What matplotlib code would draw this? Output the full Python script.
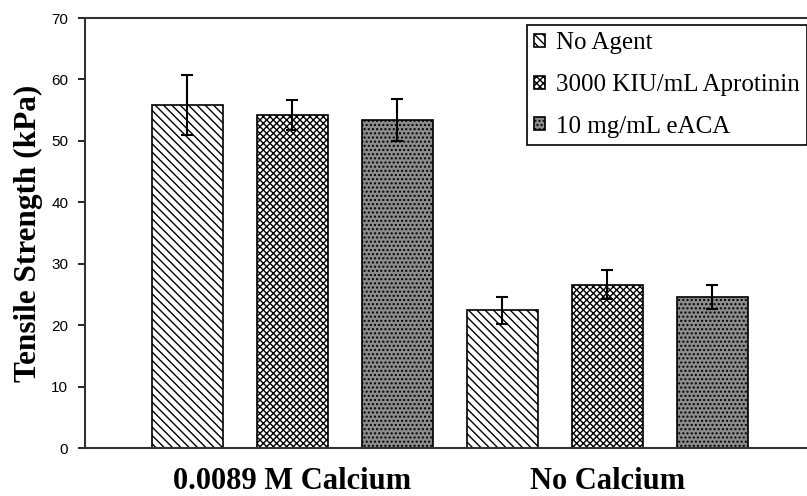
import matplotlib
matplotlib.use("Agg")
import matplotlib.pyplot as plt
import numpy as np

# data
groups = ["0.0089 M Calcium", "No Calcium"]
agents = ["No Agent", "3000 KIU/mL Aprotinin", "10 mg/mL eACA"]
means = {
    "No Agent": [55.9, 22.4],
    "3000 KIU/mL Aprotinin": [54.2, 26.6],
    "10 mg/mL eACA": [53.4, 24.6],
}
errors = {
    "No Agent": [4.9, 2.2],
    "3000 KIU/mL Aprotinin": [2.5, 2.4],
    "10 mg/mL eACA": [3.4, 1.9],
}
y_ticks = [0, 10, 20, 30, 40, 50, 60, 70]

plt.rcParams['hatch.linewidth'] = 1.0
serif = ['Liberation Serif', 'DejaVu Serif']

fig = plt.figure(figsize=(8.07, 4.96), dpi=100)
ax = fig.add_axes([85 / 807, 48 / 496, 1 - 85 / 807, 430 / 496])

styles = [
    dict(facecolor='white', hatch='\\\\\\\\'),
    dict(facecolor='white', hatch='xxxxx'),
    dict(facecolor='#8c8c8c', hatch='....'),
]

n = len(agents)
for i, agent in enumerate(agents):
    pos = np.arange(len(groups)) * n + i
    ax.bar(pos, means[agent], width=0.676, edgecolor='black', linewidth=1.2,
           label=agent, **styles[i])
    ax.errorbar(pos, means[agent], yerr=errors[agent], fmt='none',
                ecolor='black', elinewidth=1.5, capsize=4.5, capthick=1.5)

ax.set_xlim(-0.976, 5.9)
ax.set_ylim(0, 70)
ax.set_yticks(y_ticks)
ax.tick_params(axis='y', labelsize=11, length=5, width=1.2, direction='out', pad=7)
for lab in ax.get_yticklabels():
    lab.set_family(['Liberation Sans', 'DejaVu Sans'])

ax.set_xticks([1, 4])
ax.set_xticklabels(groups, family=serif, fontweight='bold', fontsize=22)
ax.tick_params(axis='x', length=0, pad=14)

ax.set_ylabel("Tensile Strength (kPa)", family=serif, fontweight='bold',
              fontsize=22.5, labelpad=6)

for side in ['left', 'top', 'bottom']:
    ax.spines[side].set_linewidth(1.5)
    ax.spines[side].set_color('#333333')
ax.spines['right'].set_visible(False)

leg = ax.legend(loc='upper right', bbox_to_anchor=(1.0, 1 - 7 / 430),
                prop={'family': serif, 'size': 18}, fancybox=False,
                edgecolor='black', framealpha=1, handlelength=0.42,
                handleheight=0.42, handletextpad=0.45, labelspacing=0.78,
                borderpad=0.3, borderaxespad=0)
leg.get_frame().set_linewidth(1.2)

fig.savefig("out.png", dpi=100)
